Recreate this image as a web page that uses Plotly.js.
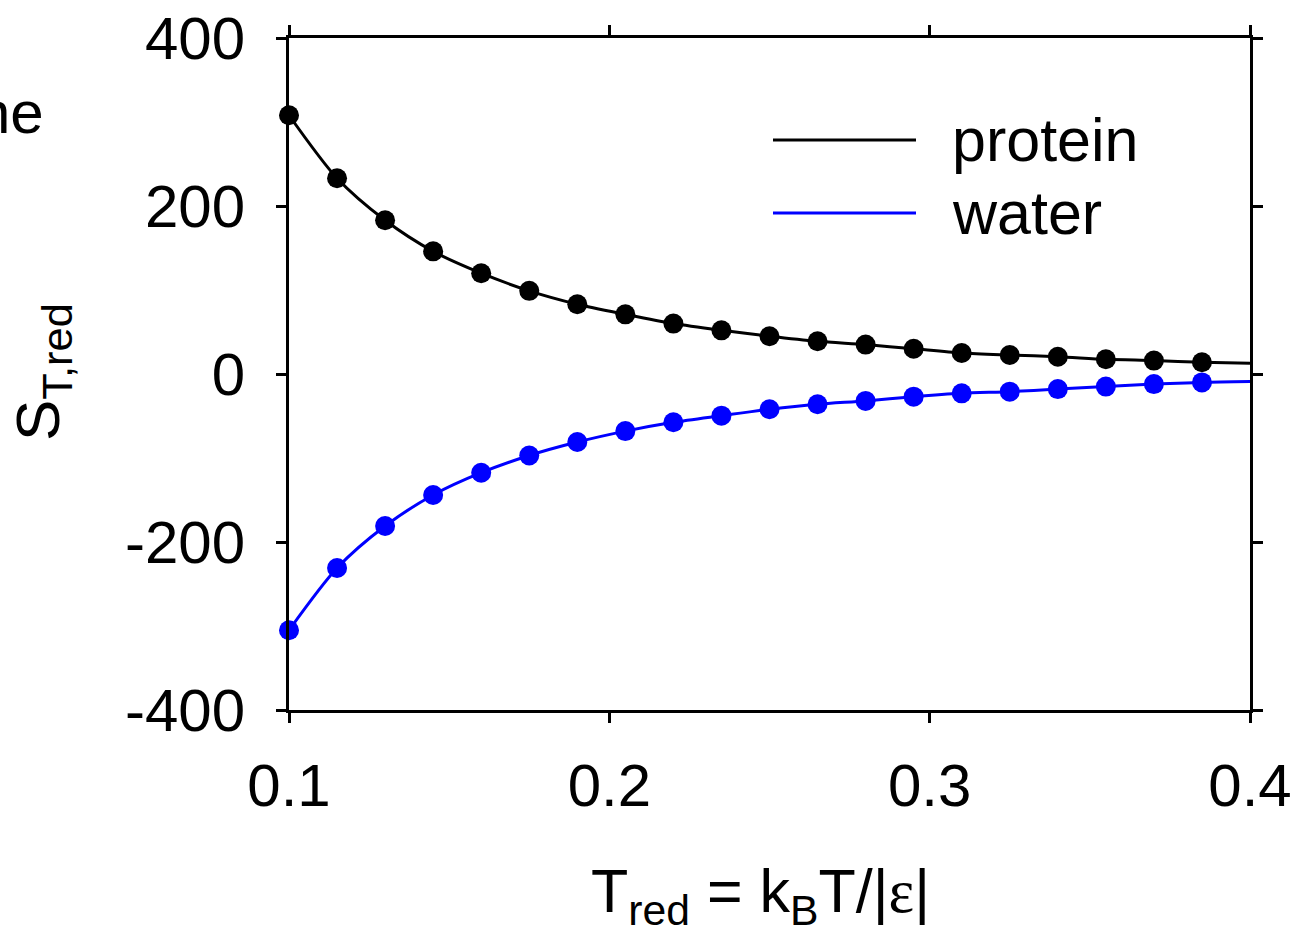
<!DOCTYPE html>
<html>
<head>
<meta charset="utf-8">
<script src="https://cdn.plot.ly/plotly-3.0.1.min.js"></script>
<style>
  html, body { margin: 0; padding: 0; background: #fff; }
  #plot { width: 1297px; height: 934px; }
</style>
</head>
<body>
<div id="plot"></div>
<script>
// Reduced temperature at the simulated state points
const tRed = [0.100, 0.115, 0.130, 0.145, 0.160, 0.175, 0.190, 0.205, 0.220, 0.235,
              0.250, 0.265, 0.280, 0.295, 0.310, 0.325, 0.340, 0.355, 0.370, 0.385];

// Reduced Soret coefficient, simulation points
const proteinS = [308, 233, 183, 146, 120, 99, 83, 71, 60, 52,
                  45, 39, 35, 30, 25, 22.6, 20.6, 17.5, 16, 14];
const waterS = [-305, -231, -181, -144, -117.5, -97, -81, -68, -57.5, -49.6,
                -42, -36, -32, -27, -23, -21, -18, -15, -12, -10];

// Fitted curves: pass through the points and continue to the axis end
const fitX = tRed.concat([0.400]);
const proteinFit = proteinS.concat([12.7]);
const waterFit = waterS.concat([-9]);

const seriesNames = ['protein', 'water'];
const seriesColors = ['#000000', '#0000ff'];

const xTicks = [0.1, 0.2, 0.3, 0.4];
const xTickText = ['0.1', '0.2', '0.3', '0.4'];
const yTicks = [-400, -200, 0, 200, 400];
const yTickText = ['-400', '-200', '0', '200', '400'];

const FONT = 'Liberation Sans, Arial, sans-serif';

const traces = [
  { x: fitX, y: proteinFit, mode: 'lines', line: { color: seriesColors[0], width: 3, shape: 'spline', smoothing: 0.8 }, showlegend: false, hoverinfo: 'skip' },
  { x: fitX, y: waterFit, mode: 'lines', line: { color: seriesColors[1], width: 3, shape: 'spline', smoothing: 0.8 }, showlegend: false, hoverinfo: 'skip' },
  { x: tRed, y: proteinS, mode: 'markers', name: seriesNames[0], marker: { color: seriesColors[0], size: 20 }, showlegend: false, cliponaxis: false },
  { x: tRed, y: waterS, mode: 'markers', name: seriesNames[1], marker: { color: seriesColors[1], size: 20 }, showlegend: false, cliponaxis: false }
];

const W = 1297, H = 934;
const M = { l: 289, r: 47, t: 38, b: 224 };
const pw = W - M.l - M.r, ph = H - M.t - M.b;
const px = (x) => (x - M.l) / pw;       // page px -> paper x
const py = (y) => 1 - (y - M.t) / ph;   // page px -> paper y

const axisCommon = {
  showline: true, linewidth: 3, linecolor: '#000', mirror: 'allticks',
  ticks: 'outside', ticklen: 10, tickwidth: 3, tickcolor: '#000',
  showgrid: false, zeroline: false,
  tickfont: { family: FONT, size: 60, color: '#000' }
};

const legendShapes = seriesNames.map((n, i) => ({
  type: 'line', xref: 'paper', yref: 'paper',
  x0: px(773), x1: px(916), y0: py(140 + i * 73), y1: py(140 + i * 73),
  line: { color: seriesColors[i], width: 3 }
}));

const legendLabels = seriesNames.map((n, i) => ({
  xref: 'paper', yref: 'paper', x: px(950), y: py(140 + i * 73),
  xanchor: 'left', yanchor: 'middle', showarrow: false,
  text: n, font: { family: FONT, size: 61, color: '#000' }
}));

const layout = {
  width: W, height: H,
  margin: M,
  paper_bgcolor: '#fff', plot_bgcolor: '#fff',
  showlegend: false,
  xaxis: Object.assign({}, axisCommon, {
    range: [0.1, 0.4], tickvals: xTicks, ticktext: xTickText, ticklabelstandoff: 11
  }),
  yaxis: Object.assign({}, axisCommon, {
    range: [-400, 400], tickvals: yTicks, ticktext: yTickText, ticklabelstandoff: 19
  }),
  shapes: legendShapes,
  annotations: legendLabels.concat([
    {
      xref: 'paper', yref: 'paper', x: px(760), y: py(895),
      xanchor: 'center', yanchor: 'middle', showarrow: false,
      text: 'T<sub>red</sub> = k<sub>B</sub>T/|<span style="font-family:Liberation Serif, Times New Roman, serif">ε</span>|',
      font: { family: FONT, size: 61, color: '#000' }
    },
    {
      xref: 'paper', yref: 'paper', x: px(42), y: py(372),
      xanchor: 'center', yanchor: 'middle', showarrow: false, textangle: -90,
      text: 'S<sub>T,red</sub>',
      font: { family: FONT, size: 62, color: '#000' }
    },
    {
      xref: 'paper', yref: 'paper', x: px(46), y: py(112),
      xanchor: 'right', yanchor: 'middle', showarrow: false,
      text: 'ne',
      font: { family: FONT, size: 60, color: '#000' }
    }
  ])
};

Plotly.newPlot('plot', traces, layout, { staticPlot: true });
</script>
</body>
</html>
